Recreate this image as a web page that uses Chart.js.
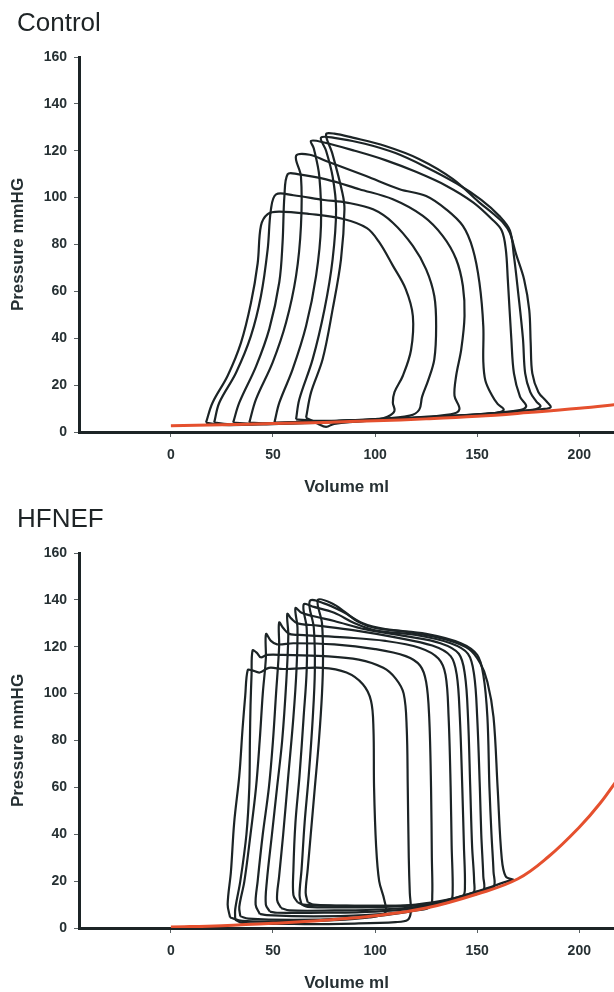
<!DOCTYPE html>
<html>
<head>
<meta charset="utf-8">
<script src="https://cdn.jsdelivr.net/npm/chart.js@4.4.1/dist/chart.umd.min.js"></script>
<style>
  body { margin: 0; background: #fff; }
  .panel { position: relative; width: 614px; height: 496px; }
  .panel canvas { display: block; }
  .panel h2 { position: absolute; left: 17px; top: 7px; margin: 0; font: normal 26px/30px "Liberation Sans", Arial, sans-serif; color: #1e2426; }
</style>
</head>
<body>
<div class="panel"><h2>Control</h2><canvas id="control" width="614" height="496"></canvas></div>
<div class="panel"><h2>HFNEF</h2><canvas id="hfnef" width="614" height="496"></canvas></div>
<script>
// axis setup
var xTicks = [0, 50, 100, 150, 200];
var xMin = -45, xMax = 217;
var yMin = 0, yMax = 160, yStep = 20;
var xTitle = 'Volume ml';
var yTitle = 'Pressure mmHG';

// Control PV loops, [volume ml, pressure mmHg] (smallest to largest)
var control1 = [[17.2,4],[20.4,12.5],[27.8,24],[34.3,38],[39.2,55],[42.5,72],[44.1,88],[47.4,93],[53,94],[68,93],[84,91],[96,87],[102,81],[108.7,71],[115,61],[118.5,49.5],[117.6,35],[113.6,24],[109.5,17],[108.7,12.5],[109.5,9],[106,6.5],[98,5],[75,4],[50,3.4],[25,3],[17.2,4]];
var control2 = [[21.2,4],[23.7,12.5],[31.9,25.3],[39.2,41],[44.1,58],[47.4,78],[49,95],[51.5,101.4],[60,101],[75,99],[86,97.9],[99,95],[108.7,89.3],[118.5,79.4],[125,69.4],[129,58],[129.9,45.2],[129,31],[126,22],[123,15],[121.6,9.5],[117,7],[100,5.5],[75,4.5],[50,3.6],[30,3.2],[21.2,4]];
var control3 = [[30.5,4],[33.5,12.5],[41.7,28],[48.2,44],[53.1,64],[54.7,81],[55.6,100.7],[57.2,110],[62,110],[76,107.8],[92.3,103.6],[108.7,99.3],[123.4,92.2],[133.2,83.6],[139.7,73.7],[143,62.3],[143.8,49.5],[142.2,35.3],[139.7,24],[138.9,15.4],[141.3,9.7],[137,7.5],[115,6],[90,5],[60,4],[40,3.5],[30.5,4]];
var control4 = [[38.4,4],[41.7,14],[49.8,29.6],[56.4,46.7],[61.3,66.6],[63.7,88],[63.7,109],[61.3,117.8],[68,118.3],[76,115.6],[95.6,109.2],[112,103.6],[125,100.7],[134.8,95],[143,87.9],[147.9,78],[151.1,63.7],[153,45],[153,30],[154,22],[157,16],[160,12],[163,9.5],[158,8],[130,6.5],[100,5.2],[70,4.3],[45,3.7],[38.4,4]];
var control5 = [[50.7,4],[53.1,12.5],[59.6,26.7],[66.2,45.2],[71.1,66.6],[73.5,88],[72.7,109],[70,121],[68.6,124.2],[75,123.5],[90,120],[105,116],[120,111],[135,105],[148,98],[157,91],[162,86],[164,78],[165,65],[166.7,40],[168,25],[171,15],[174,11],[170,9.2],[150,7.5],[120,6],[90,5],[60,4.2],[50.7,4]];
var control6 = [[61.3,5.4],[62.9,14],[69.4,31],[75.2,52.3],[79.2,73.7],[80.9,95],[79.2,109],[76,120],[73.5,125.6],[80,125.5],[95,123],[110,119],[125,113],[140,106],[152,99],[161,92],[166,86],[168,75],[170,60],[172.4,40],[173.5,25],[176,17],[179,13],[181,11],[177,9.5],[150,7.5],[120,6],[90,5],[70,4.8],[61.3,5.4]];
var control7 = [[66.2,6.1],[68.6,16.8],[74.3,31],[79.2,52.3],[83.3,73.7],[85,95],[84,102],[79,119],[76,127],[80,127.3],[89,125.6],[105,122],[121.7,116.4],[138,108],[151,98],[158,93],[163,89],[166,85],[169,76],[173,65],[175.5,52],[176.2,38],[177,25],[180,17],[184,13],[186,10.6],[182,9.8],[165,8.5],[145,7],[120,5.8],[100,5],[80,3.5],[76,2.2],[72,3.5],[66.2,6.1]];
// end-diastolic pressure volume relation (red)
var controlEdpvr = [[0,2.7],[25,3.1],[50,3.6],[75,4.1],[100,4.8],[125,5.6],[150,6.7],[175,8.3],[200,10.1],[220,11.9]];

// HFNEF PV loops
var hfnef1 = [[29,4.5],[35,3],[55,2.8],[80,3.3],[97,4.5],[105,6.5],[104.5,12],[102,20],[100.5,35],[99.5,60],[99.2,85],[98,97],[94,104],[86,109],[74,111],[55,110.5],[48,111],[43.5,109],[39.5,110],[37.6,110],[36.4,99],[35.1,85],[33.5,65],[31,45],[29.4,24],[27.8,10],[29,4.5]];
var hfnef2 = [[31.5,3.5],[35,2.2],[60,1.7],[90,1.9],[110,2.5],[116,3.5],[117.5,7],[117,15],[116.5,30],[116,60],[115.5,85],[114,100],[110,106.5],[104,111],[92,114.5],[75,116],[55,116.5],[47,116.5],[44,115.5],[42,117.5],[40,118.4],[39.5,108],[39,95],[38.7,80],[38.4,60],[37,40],[34,20],[31.5,8],[31.5,3.5]];
var hfnef3 = [[34,5],[38,4],[60,3.5],[85,4],[105,5.5],[120,7.5],[127,9],[128,14],[127.8,30],[127.4,60],[126.5,90],[125,105],[122,112],[115,116],[100,119],[80,121],[60,121.5],[52,121],[49,122.5],[46.6,125.4],[46.5,115],[45,100],[43.5,80],[41.7,60],[39,40],[36,20],[33.5,9],[34,5]];
var hfnef4 = [[43.5,6],[47,5.5],[70,5],[95,5.5],[115,7],[130,10],[137,11.5],[138,16],[137.5,35],[137,60],[136,90],[134.5,108],[131,115],[122,119.5],[105,122.5],[85,124],[65,125],[58,125.5],[55,128],[53,130.3],[53,120],[51.5,100],[50,80],[48,60],[45,40],[42.5,20],[41.5,10],[43.5,6]];
var hfnef5 = [[48.5,7],[52,6.5],[75,6.5],[100,7],[120,8.5],[135,11.5],[143,13.5],[144,18],[143.5,35],[142.7,60],[141.5,90],[140,108],[137,116],[128,120.5],[110,124],[90,127],[72,129],[62,130],[59,132],[57,134],[57.5,125],[56.5,105],[54.5,80],[52,60],[49.5,40],[47,20],[46.5,10],[48.5,7]];
var hfnef6 = [[54,8.5],[58,7.5],[80,7.5],[105,8],[125,9.5],[140,12.5],[148,14.5],[148.5,20],[147.5,35],[146.6,60],[145.5,90],[144,108],[141,117],[132,121.5],[115,124.5],[95,127.5],[80,131],[70,133],[64,134.5],[61,136.5],[62,128],[61.5,110],[60,90],[57.5,65],[55,40],[53,22],[52,12],[54,8.5]];
var hfnef7 = [[62,11],[65,10],[80,9.5],[100,9.5],[115,9.5],[130,10.5],[145,13.5],[153,16],[153,22],[152,40],[151.3,60],[150,90],[148.5,108],[145.5,117],[137,121.5],[120,125],[100,127],[90,130],[80,134.5],[70,137],[65,138],[66.5,128],[66.5,110],[65,90],[63,65],[61,45],[60,25],[60,14],[62,11]];
var hfnef8 = [[64,10],[67,9],[85,8.8],[105,9],[120,10],[135,12],[150,15.5],[158,17.5],[158,24],[157,40],[156,60],[155,90],[153,108],[150,116.5],[142,121.5],[125,125.5],[105,127.5],[94,130],[84,135],[75,138.5],[68,139.5],[70,128],[70.5,110],[69.5,90],[67.5,65],[65.5,45],[64,25],[63,14],[64,10]];
var hfnef9 = [[67,11],[70,10],[90,9.5],[110,9.5],[125,10],[140,13],[155,17],[165,20],[168,20.5],[164,22],[162,30],[160,60],[158,90],[155,105],[151.5,113],[146,119],[135,123],[118,126],[100,128],[92,130.5],[85,135],[79,138.5],[72,140],[74,130],[74.5,115],[74,100],[72.5,80],[70.5,60],[68.5,40],[67,25],[66,15],[67,11]];
var hfnefEdpvr = [[0,0.4],[25,1],[50,2],[75,3.3],[100,5.2],[125,8.5],[150,14.5],[170,21],[185,30.5],[200,43],[210,53],[220,65]];

var inkColor = '#1c2426';
var labelColor = '#263033';
var redColor = '#e5502e';
var fontFamily = '"Liberation Sans", Arial, sans-serif';

function toPoints(arr) {
  return arr.map(function (p) { return { x: p[0], y: p[1] }; });
}

function createChart(canvasId, loops, edpvr) {
  // red curve first so it is painted over the loops
  var datasets = [{
    data: toPoints(edpvr),
    showLine: true,
    borderColor: redColor,
    borderWidth: 3,
    pointRadius: 0,
    tension: 0.4
  }];
  loops.forEach(function (loop) {
    datasets.push({
      data: toPoints(loop),
      showLine: true,
      borderColor: inkColor,
      borderWidth: 2.2,
      pointRadius: 0,
      tension: 0.35
    });
  });

  return new Chart(document.getElementById(canvasId), {
    type: 'scatter',
    data: { datasets: datasets },
    options: {
      responsive: false,
      animation: false,
      devicePixelRatio: 1,
      layout: { padding: { top: 57, left: 0, right: 0, bottom: 0 } },
      plugins: { legend: { display: false }, tooltip: { enabled: false } },
      scales: {
        x: {
          type: 'linear',
          min: xMin,
          max: xMax,
          afterBuildTicks: function (scale) {
            scale.ticks = xTicks.map(function (v) { return { value: v }; });
          },
          afterFit: function (scale) { scale.height = 64; },
          border: { display: true, width: 3, color: inkColor },
          grid: { drawOnChartArea: false, drawTicks: true, tickLength: 5, color: '#5a6264' },
          ticks: { padding: 10, color: labelColor, font: { family: fontFamily, size: 14, weight: 'bold' } },
          title: {
            display: true,
            text: xTitle,
            color: labelColor,
            padding: 0,
            font: { family: fontFamily, size: 17, weight: 'bold', lineHeight: 1 }
          }
        },
        y: {
          min: yMin,
          max: yMax,
          afterFit: function (scale) { scale.width = 79; },
          border: { display: true, width: 3, color: inkColor },
          grid: { drawOnChartArea: false, drawTicks: true, tickLength: 5, color: '#5a6264' },
          ticks: { stepSize: yStep, padding: 7, color: labelColor, font: { family: fontFamily, size: 14, weight: 'bold' } },
          title: {
            display: true,
            text: yTitle,
            color: labelColor,
            padding: { top: 9.5, bottom: 0 },
            font: { family: fontFamily, size: 17, weight: 'bold', lineHeight: 1 }
          }
        }
      }
    }
  });
}

createChart('control', [control1, control2, control3, control4, control5, control6, control7], controlEdpvr);
createChart('hfnef', [hfnef1, hfnef2, hfnef3, hfnef4, hfnef5, hfnef6, hfnef7, hfnef8, hfnef9], hfnefEdpvr);
</script>
</body>
</html>
